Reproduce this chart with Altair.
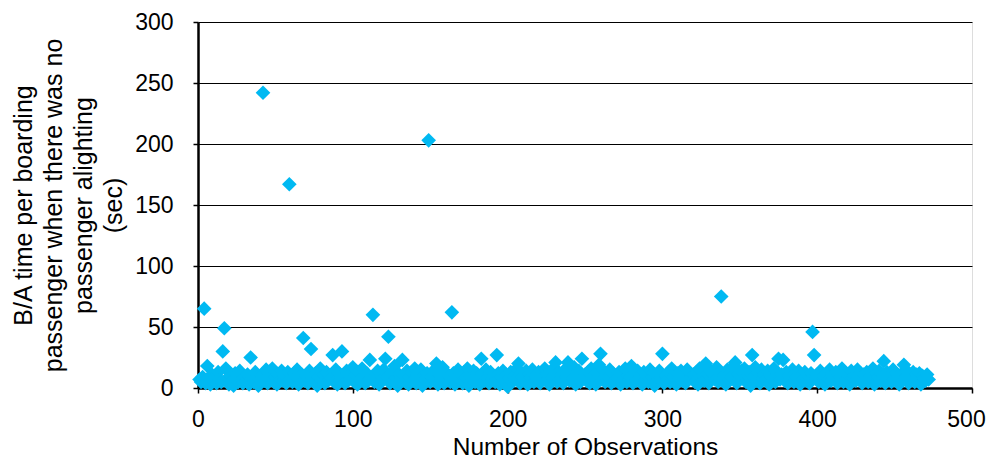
import altair as alt
import pandas as pd

# Observed B/A time per boarding passenger (sec), by observation number (1..472)
obs_001_100 = [
    7, 5, 9, 65, 4, 18, 8, 3, 11, 6,
    9, 4, 13, 7, 5, 30, 49, 16, 8, 3,
    10, 6, 2, 12, 8, 5, 14, 7, 4, 9,
    6, 11, 3, 25, 8, 5, 13, 9, 2, 7,
    10, 242, 6, 15, 4, 12, 8, 16, 5, 9,
    3, 11, 7, 14, 6, 10, 4, 13, 167, 8,
    5, 12, 9, 15, 3, 7, 11, 41, 6, 10,
    4, 14, 32, 8, 5, 12, 2, 9, 16, 7,
    11, 4, 13, 6, 10, 8, 27, 5, 15, 3,
    12, 7, 30, 9, 4, 14, 6, 11, 8, 17,
]
obs_101_200 = [
    5, 10, 3, 13, 7, 16, 9, 4, 12, 6,
    23, 8, 60, 5, 11, 14, 3, 10, 7, 15,
    24, 9, 42, 4, 12, 6, 18, 8, 2, 11,
    7, 23, 10, 5, 14, 3, 9, 13, 6, 16,
    4, 11, 8, 15, 2, 10, 7, 12, 203, 5,
    9, 14, 6, 20, 3, 11, 8, 17, 4, 13,
    7, 10, 5, 62, 12, 3, 9, 15, 6, 11,
    4, 13, 8, 16, 2, 10, 7, 14, 5, 12,
    9, 3, 24, 11, 6, 15, 8, 4, 13, 7,
    10, 5, 27, 12, 3, 9, 14, 6, 11, 1,
]
obs_201_300 = [
    8, 13, 5, 10, 7, 16, 20, 4, 12, 9,
    6, 14, 3, 11, 8, 15, 5, 10, 7, 13,
    4, 12, 9, 16, 6, 11, 3, 14, 8, 10,
    21, 5, 13, 7, 11, 4, 15, 9, 21, 6,
    12, 8, 17, 3, 10, 14, 5, 24, 9, 11,
    6, 13, 4, 16, 8, 10, 3, 12, 19, 28,
    7, 14, 5, 11, 9, 15, 4, 12, 6, 10,
    8, 13, 3, 11, 7, 16, 5, 10, 9, 18,
    4, 12, 6, 14, 8, 11, 3, 13, 7, 10,
    5, 15, 9, 12, 2, 11, 6, 14, 8, 28,
]
obs_301_400 = [
    4, 10, 7, 13, 5, 16, 9, 11, 3, 12,
    8, 14, 6, 10, 4, 15, 7, 12, 9, 11,
    5, 13, 3, 16, 8, 10, 6, 20, 12, 4,
    14, 9, 11, 7, 17, 5, 13, 75, 8, 10,
    3, 15, 6, 12, 9, 18, 21, 4, 11, 7,
    14, 8, 16, 5, 10, 13, 2, 27, 9, 17,
    6, 12, 4, 15, 8, 11, 7, 14, 3, 10,
    9, 16, 5, 12, 24, 7, 11, 23, 6, 13,
    4, 10, 8, 15, 5, 12, 9, 14, 3, 11,
    7, 13, 6, 10, 4, 12, 46, 27, 8, 11,
]
obs_401_472 = [
    5, 14, 9, 10, 3, 12, 7, 15, 6, 11,
    8, 13, 4, 10, 9, 16, 5, 12, 7, 11,
    3, 14, 8, 10, 6, 15, 9, 12, 4, 11,
    7, 13, 5, 10, 8, 16, 3, 12, 9, 14,
    6, 11, 22, 4, 13, 8, 10, 5, 15, 7,
    12, 9, 3, 11, 6, 19, 8, 14, 4, 10,
    7, 13, 5, 11, 9, 12, 3, 10, 8, 6,
    11, 7,
]

x_ticks = [0, 100, 200, 300, 400, 500]
y_ticks = [0, 50, 100, 150, 200, 250, 300]
y_title = [
    "B/A time per boarding",
    "passenger when there was no",
    "passenger alighting",
    "(sec)",
]
x_title = "Number of Observations"

ba_time = obs_001_100 + obs_101_200 + obs_201_300 + obs_301_400 + obs_401_472
observation = list(range(1, len(ba_time) + 1))
df = pd.DataFrame({"obs": observation, "val": ba_time})

FONT = "Liberation Sans"

chart = (
    alt.Chart(df)
    .mark_point(shape="diamond", filled=True, size=215, color="#00B9F2", opacity=1)
    .encode(
        x=alt.X(
            "obs:Q",
            scale=alt.Scale(domain=[0, 500], nice=False, zero=False),
            axis=alt.Axis(
                values=x_ticks,
                title=x_title,
                grid=False,
                domainColor="black",
                domainWidth=2.5,
                tickColor="black",
                tickWidth=1.5,
                tickSize=5,
                labelFont=FONT,
                labelFontSize=23,
                labelColor="black",
                labelBaseline="alphabetic",
                labelPadding=33,
                labelFlush=False,
                labelOffset={"condition": {"test": "datum.value == 500", "value": -6}, "value": 0},
                titleFont=FONT,
                titleFontSize=24.5,
                titleFontWeight="normal",
                titleColor="black",
                titleBaseline="alphabetic",
                titleY=66,
            ),
        ),
        y=alt.Y(
            "val:Q",
            scale=alt.Scale(domain=[0, 300], nice=False),
            axis=alt.Axis(
                values=y_ticks,
                title=y_title,
                grid=True,
                gridColor="black",
                gridWidth=1,
                domainColor="black",
                domainWidth=2.5,
                tickColor="black",
                tickWidth=1.5,
                tickSize=5,
                labelFont=FONT,
                labelFontSize=23,
                labelColor="black",
                labelPadding=20,
                labelFlush=False,
                titleFont=FONT,
                titleFontSize=25,
                titleFontWeight="normal",
                titleColor="black",
                titleLineHeight=30,
                titleAngle=-90,
                titleAlign="center",
                titleBaseline="top",
                titleX=-187,
                titleY=183,
            ),
        ),
    )
    .properties(
        width=774,
        height=366,
        autosize=alt.AutoSizeParams(type="none"),
        padding={"left": 190, "top": 14, "right": 14, "bottom": 70},
    )
    .configure_view(stroke=None)
    .configure(background="white")
)

chart.save("out.html", embed_options={"renderer": "svg", "actions": False})
